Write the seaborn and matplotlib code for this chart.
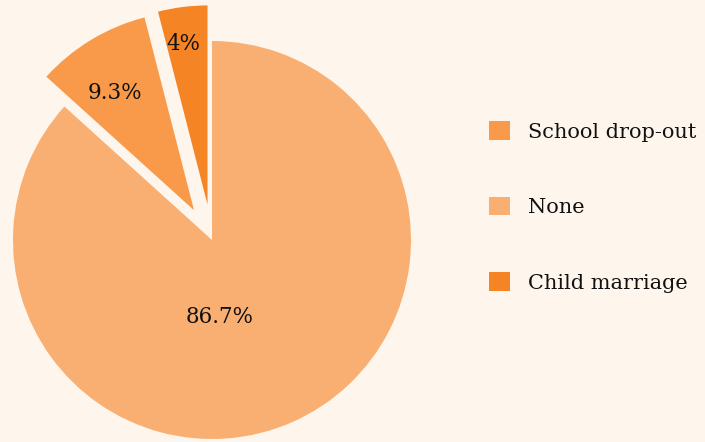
import numpy as np
import matplotlib
matplotlib.use("Agg")
import matplotlib.pyplot as plt
import seaborn as sns

categories = ["None", "School drop-out", "Child marriage"]
values = [86.7, 9.3, 4.0]
pct_labels = ["86.7%", "9.3%", "4%"]
legend_order = ["School drop-out", "None", "Child marriage"]
colors = ["#F9AF72", "#F89A4A", "#F48424"]

BG = "#FEF5EC"
sns.set_theme(style="white")
plt.rcParams["font.family"] = ["DejaVu Serif", "DejaVu Sans"]

fig = plt.figure(figsize=(7.05, 4.42), dpi=100, facecolor=BG)
ax = fig.add_axes([0, 0, 1, 1])
ax.set_facecolor(BG)

explode = [0.0, 0.175, 0.18]
wedges, texts = ax.pie(values, colors=colors, startangle=90, counterclock=False,
                       explode=explode, radius=1.0,
                       wedgeprops=dict(linewidth=0))

# label placement (radius, angle offset) relative to each wedge's apex
label_r = [0.389, 0.71, 0.815]
label_dang = [-18.4, 3.0, 1.2]
for w, lab, r, da in zip(wedges, pct_labels, label_r, label_dang):
    cx, cy = w.center
    mid = np.deg2rad((w.theta1 + w.theta2) / 2 + da)
    ax.text(cx + r * np.cos(mid), cy + r * np.sin(mid), lab, ha="center", va="center",
            fontsize=15.5, color="#111111")

R = 199.0
cxp, cyp = 212.0, 240.0
ax.set_xlim(-cxp / R, (705 - cxp) / R)
ax.set_ylim(-(442 - cyp) / R, cyp / R)
ax.set_aspect("auto")
ax.axis("off")

handles = {c: w for c, w in zip(categories, wedges)}
leg = fig.legend([handles[c] for c in legend_order], legend_order,
                 loc="center left", bbox_to_anchor=(489 / 705, (442 - 207) / 442),
                 frameon=False, fontsize=15, handlelength=1.0, handleheight=1.0,
                 handletextpad=0.87, labelspacing=2.65, borderpad=0, borderaxespad=0,
                 labelcolor="#111111")

fig.savefig("out.png", dpi=100, facecolor=BG)
